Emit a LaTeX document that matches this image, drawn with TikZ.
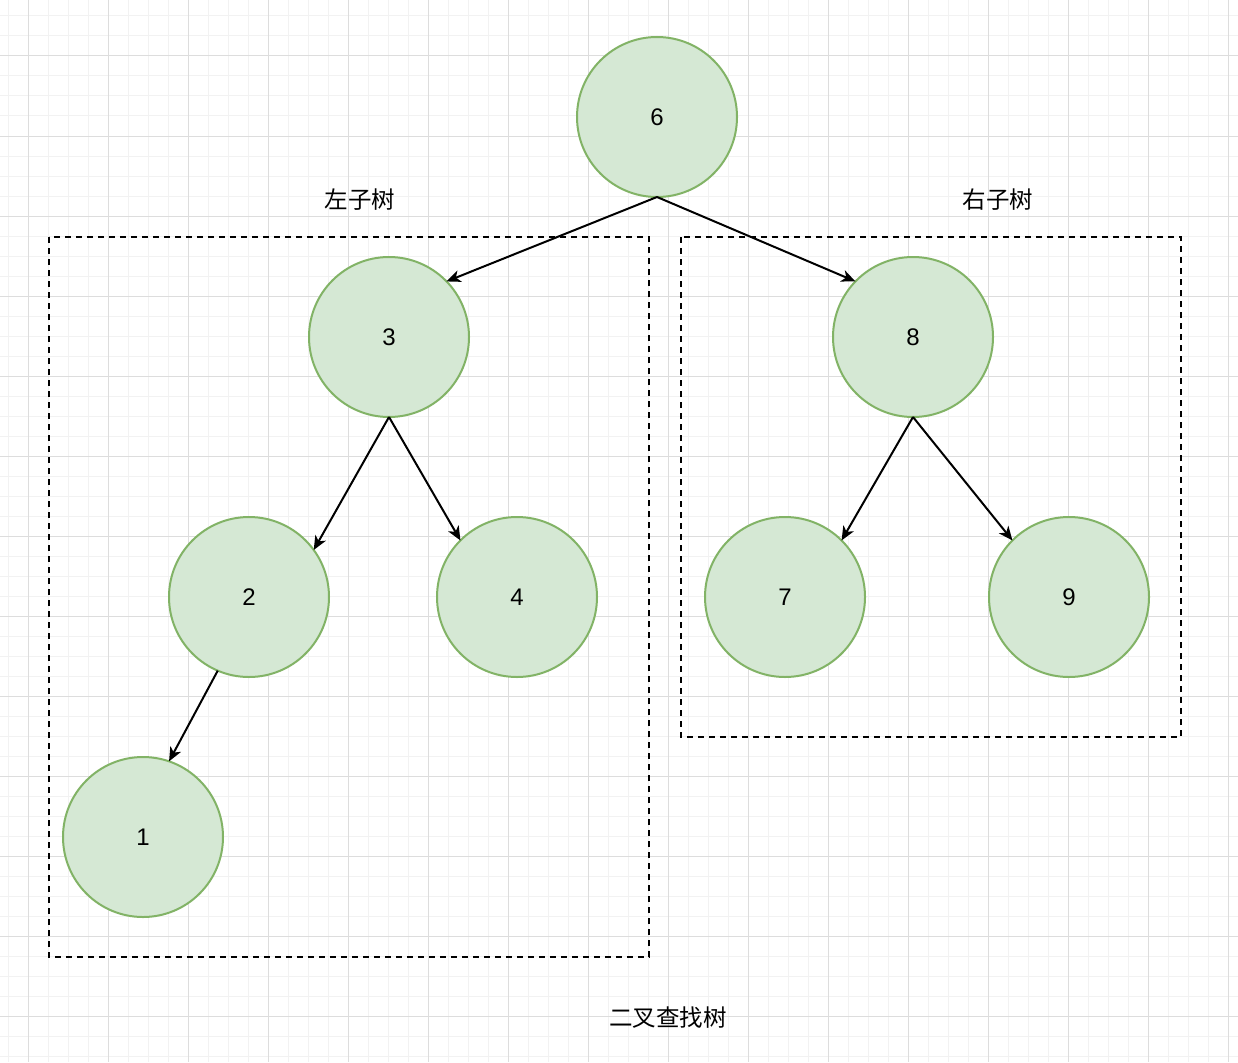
\documentclass[tikz,border=0pt]{standalone}
\usepackage{fontspec}
\setmainfont{Liberation Sans}
\newfontfamily\cjk{Noto Sans CJK SC}
\usetikzlibrary{arrows.meta}
\definecolor{nodefill}{HTML}{D5E8D4}
\definecolor{nodeline}{HTML}{82B366}
\definecolor{gridminor}{HTML}{F2F2F2}
\definecolor{gridmajor}{HTML}{DDDDDD}
\tikzset{
  treenode/.style={circle, draw=nodeline, fill=nodefill, line width=2pt,
    minimum size=160pt, inner sep=0pt, outer sep=0pt,
    font=\fontsize{24}{28}\selectfont},
  arr/.style={line width=2pt, -{Stealth[length=14pt,width=12pt,inset=4pt]}},
  groupbox/.style={draw=black, line width=1.6pt, dash pattern=on 6pt off 5pt},
  caption/.style={font=\cjk\fontsize{23.5}{26}\selectfont, inner sep=0pt}
}
\begin{document}
\begin{tikzpicture}[x=1pt,y=-1pt]
\useasboundingbox (0,0) rectangle (1238,1062);
\fill[white] (0,0) rectangle (1238,1062);
% grid minor
\foreach \k in {0,...,61} {
  \pgfmathsetmacro\xx{8+20*\k}
  \draw[gridminor, line width=1pt] (\xx,0) -- (\xx,1062);
}
\foreach \k in {0,...,52} {
  \pgfmathsetmacro\yy{16+20*\k}
  \draw[gridminor, line width=1pt] (0,\yy) -- (1238,\yy);
}
% grid major
\foreach \k in {0,...,15} {
  \pgfmathsetmacro\xx{28+80*\k}
  \draw[gridmajor, line width=1pt] (\xx,0) -- (\xx,1062);
}
\foreach \k in {0,...,12} {
  \pgfmathsetmacro\yy{56+80*\k}
  \draw[gridmajor, line width=1pt] (0,\yy) -- (1238,\yy);
}
% group boxes
\draw[groupbox] (49,237) rectangle (649,957);
\draw[groupbox] (681,237) rectangle (1181,737);
% labels
\node[caption] (lleft) at (360,200) {左子树};
\node[caption] (lright) at (998,200) {右子树};
\node[caption] (ltitle) at (668,1018) {二叉查找树};
% nodes
\node[treenode] (n6) at (657,117) {\raisebox{-1pt}{6}};
\node[treenode] (n3) at (389,337) {\raisebox{-1pt}{3}};
\node[treenode] (n8) at (913,337) {\raisebox{-1pt}{8}};
\node[treenode] (n2) at (249,597) {\raisebox{-1pt}{2}};
\node[treenode] (n4) at (517,597) {\raisebox{-1pt}{4}};
\node[treenode] (n7) at (785,597) {\raisebox{-1pt}{7}};
\node[treenode] (n9) at (1069,597) {\raisebox{-1pt}{9}};
\node[treenode] (n1) at (143,837) {\raisebox{-1pt}{1}};
% edges
\draw[arr] (n6.south) -- (n3.44);
\draw[arr] (n6.south) -- (n8.136);
\draw[arr] (n3.south) -- (n2.36);
\draw[arr] (n3.south) -- (n4.135);
\draw[arr] (n8.south) -- (n7.45);
\draw[arr] (n8.south) -- (n9.135);
\draw[arr] (n2.247) -- (n1.71);
\end{tikzpicture}
\end{document}
